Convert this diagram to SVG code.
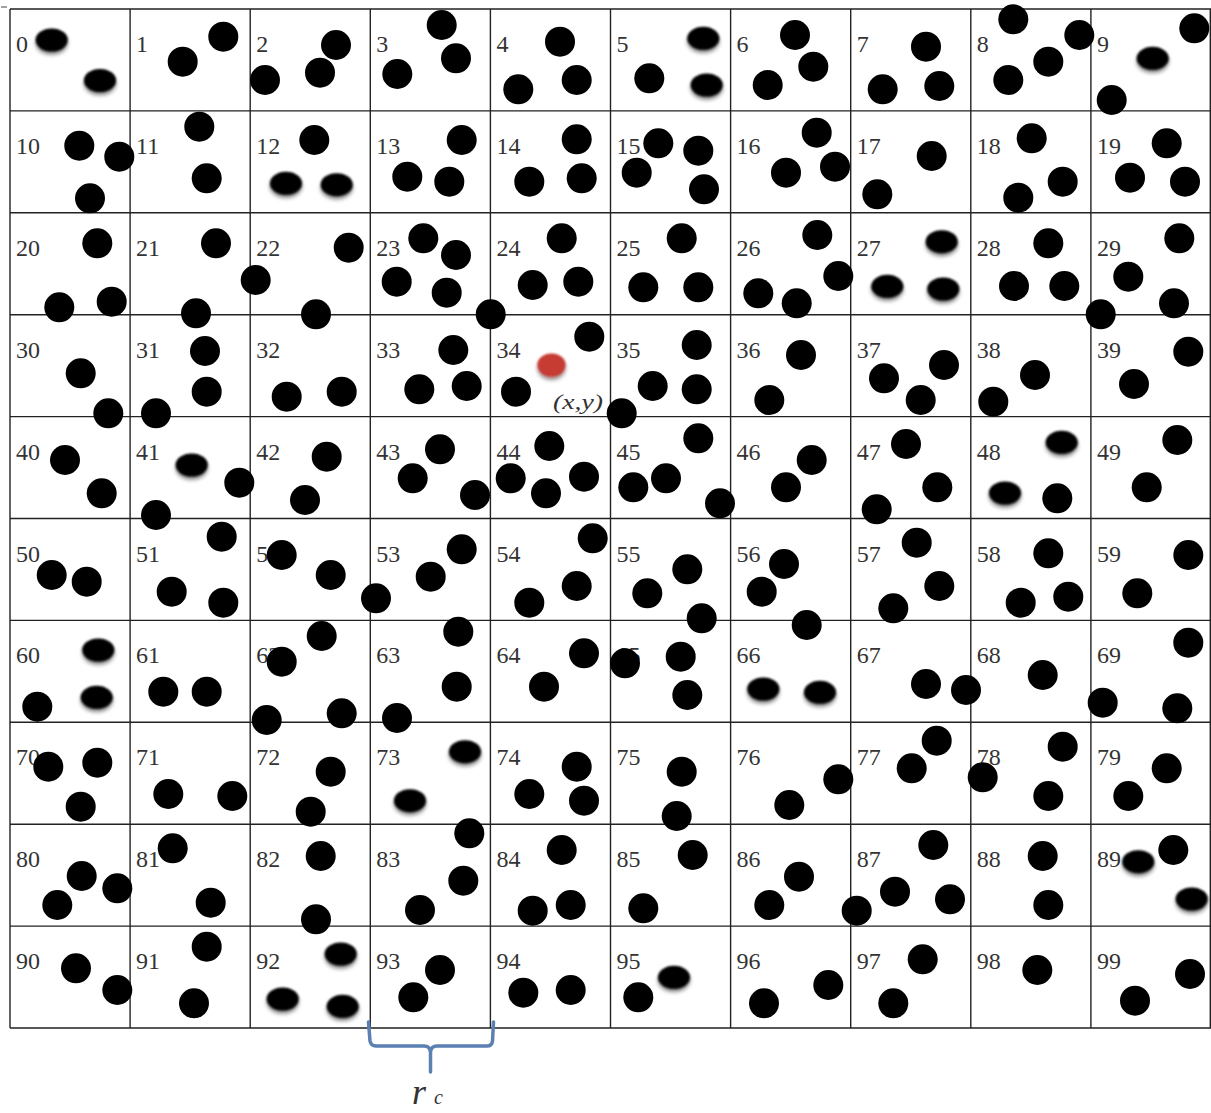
<svg xmlns="http://www.w3.org/2000/svg" width="1211" height="1113" viewBox="0 0 1211 1113">
<style>
.grid{stroke:#222;stroke-width:1.4;fill:none}
.lbl{font-family:"Liberation Serif","Times New Roman",serif;font-size:24px;fill:#333}
.d{fill:#000}
.e{fill:#000;filter:url(#soft)}
.red{fill:#c63a33;filter:url(#soft)}
.it{font-family:"Liberation Serif","Times New Roman",serif;font-style:italic;fill:#333}
.brace{fill:none;stroke:#5b80b2;stroke-width:3.5;stroke-linecap:round;stroke-linejoin:round}
</style>
<defs>
<filter id="soft" x="-50%" y="-50%" width="200%" height="220%">
<feGaussianBlur in="SourceAlpha" stdDeviation="2" result="b"/>
<feOffset in="b" dy="3" result="o"/>
<feComponentTransfer in="o" result="s"><feFuncA type="linear" slope="0.5"/></feComponentTransfer>
<feGaussianBlur in="SourceGraphic" stdDeviation="0.8" result="g"/>
<feMerge><feMergeNode in="s"/><feMergeNode in="g"/></feMerge>
</filter>
</defs>
<rect width="1211" height="1113" fill="#fff"/>
<line x1="1" y1="7" x2="7" y2="7" stroke="#444" stroke-width="1"/>
<g id="grid" class="grid">
<path d="M10,9V1028M130.1,9V1028M250.2,9V1028M370.3,9V1028M490.4,9V1028M610.5,9V1028M730.6,9V1028M850.7,9V1028M970.8,9V1028M1090.9,9V1028M1210.3,9V1028M10,9H1211M10,110.9H1211M10,212.8H1211M10,314.7H1211M10,416.6H1211M10,518.5H1211M10,620.4H1211M10,722.3H1211M10,824.2H1211M10,926.1H1211M10,1028H1211"/>
</g>
<g id="connectors"></g>
<g id="cell-0"><text class="lbl" x="16" y="52">0</text><ellipse class="e" cx="51.7" cy="40" rx="16" ry="11.5"/><ellipse class="e" cx="100" cy="80.5" rx="16" ry="11.5"/></g>
<g id="cell-1"><text class="lbl" x="136.1" y="52">1</text><circle class="d" cx="182.7" cy="61.7" r="15"/><circle class="d" cx="223.3" cy="36.7" r="15"/></g>
<g id="cell-2"><text class="lbl" x="256.2" y="52">2</text><circle class="d" cx="336" cy="45" r="15"/><circle class="d" cx="320" cy="72.7" r="15"/><circle class="d" cx="265" cy="80" r="15"/></g>
<g id="cell-3"><text class="lbl" x="376.3" y="52">3</text><circle class="d" cx="441.7" cy="25" r="15"/><circle class="d" cx="456" cy="58.3" r="15"/><circle class="d" cx="397.3" cy="74" r="15"/></g>
<g id="cell-4"><text class="lbl" x="496.4" y="52">4</text><circle class="d" cx="560" cy="41.7" r="15"/><circle class="d" cx="576.7" cy="80" r="15"/><circle class="d" cx="518.3" cy="89.3" r="15"/></g>
<g id="cell-5"><text class="lbl" x="616.5" y="52">5</text><ellipse class="e" cx="703.3" cy="38.3" rx="16" ry="11.5"/><ellipse class="e" cx="706.7" cy="85" rx="16" ry="11.5"/><circle class="d" cx="649.3" cy="78.3" r="15"/></g>
<g id="cell-6"><text class="lbl" x="736.6" y="52">6</text><circle class="d" cx="795" cy="35" r="15"/><circle class="d" cx="767.7" cy="85" r="15"/><circle class="d" cx="813.3" cy="66.7" r="15"/></g>
<g id="cell-7"><text class="lbl" x="856.7" y="52">7</text><circle class="d" cx="926" cy="46.7" r="15"/><circle class="d" cx="882.7" cy="89.3" r="15"/><circle class="d" cx="939.3" cy="86" r="15"/></g>
<g id="cell-8"><text class="lbl" x="976.8" y="52">8</text><circle class="d" cx="1013.3" cy="19.3" r="15"/><circle class="d" cx="1079.3" cy="35" r="15"/><circle class="d" cx="1048.3" cy="61.7" r="15"/><circle class="d" cx="1008.3" cy="80" r="15"/></g>
<g id="cell-9"><text class="lbl" x="1096.9" y="52">9</text><ellipse class="e" cx="1152.7" cy="58.3" rx="16" ry="11.5"/><circle class="d" cx="1194.3" cy="28.3" r="15"/><circle class="d" cx="1111.7" cy="100" r="15"/></g>
<g id="cell-10"><text class="lbl" x="16" y="153.9">10</text><circle class="d" cx="79.3" cy="145.7" r="15"/><circle class="d" cx="119.3" cy="156.7" r="15"/><circle class="d" cx="90" cy="198.3" r="15"/></g>
<g id="cell-11"><text class="lbl" x="136.1" y="153.9">11</text><circle class="d" cx="199.3" cy="126.7" r="15"/><circle class="d" cx="206.7" cy="178.3" r="15"/></g>
<g id="cell-12"><text class="lbl" x="256.2" y="153.9">12</text><circle class="d" cx="314.3" cy="140" r="15"/><ellipse class="e" cx="286" cy="183.3" rx="16" ry="11.5"/><ellipse class="e" cx="336.7" cy="184.7" rx="16" ry="11.5"/></g>
<g id="cell-13"><text class="lbl" x="376.3" y="153.9">13</text><circle class="d" cx="461.7" cy="140" r="15"/><circle class="d" cx="407.3" cy="176.7" r="15"/><circle class="d" cx="449.3" cy="181.7" r="15"/></g>
<g id="cell-14"><text class="lbl" x="496.4" y="153.9">14</text><circle class="d" cx="576.7" cy="139.3" r="15"/><circle class="d" cx="529.3" cy="181.7" r="15"/><circle class="d" cx="581.7" cy="178.3" r="15"/></g>
<g id="cell-15"><text class="lbl" x="616.5" y="153.9">15</text><circle class="d" cx="658.3" cy="143.3" r="15"/><circle class="d" cx="698.3" cy="150.7" r="15"/><circle class="d" cx="636.7" cy="172.7" r="15"/><circle class="d" cx="704" cy="189.3" r="15"/></g>
<g id="cell-16"><text class="lbl" x="736.6" y="153.9">16</text><circle class="d" cx="816.7" cy="132.7" r="15"/><circle class="d" cx="835" cy="166.7" r="15"/><circle class="d" cx="786" cy="172.7" r="15"/></g>
<g id="cell-17"><text class="lbl" x="856.7" y="153.9">17</text><circle class="d" cx="931.7" cy="156" r="15"/><circle class="d" cx="877.3" cy="194.3" r="15"/></g>
<g id="cell-18"><text class="lbl" x="976.8" y="153.9">18</text><circle class="d" cx="1031.7" cy="138.3" r="15"/><circle class="d" cx="1062.7" cy="181.7" r="15"/><circle class="d" cx="1018.3" cy="197.7" r="15"/></g>
<g id="cell-19"><text class="lbl" x="1096.9" y="153.9">19</text><circle class="d" cx="1166.7" cy="143.3" r="15"/><circle class="d" cx="1130" cy="177.7" r="15"/><circle class="d" cx="1185" cy="181.7" r="15"/></g>
<g id="cell-20"><text class="lbl" x="16" y="255.8">20</text><circle class="d" cx="97.3" cy="243.3" r="15"/><circle class="d" cx="59.3" cy="307.3" r="15"/><circle class="d" cx="111.7" cy="301.7" r="15"/></g>
<g id="cell-21"><text class="lbl" x="136.1" y="255.8">21</text><circle class="d" cx="216" cy="243.3" r="15"/><circle class="d" cx="255.7" cy="280" r="15"/><circle class="d" cx="196" cy="313.3" r="15"/></g>
<g id="cell-22"><text class="lbl" x="256.2" y="255.8">22</text><circle class="d" cx="348.7" cy="247.7" r="15"/><circle class="d" cx="316" cy="314.3" r="15"/></g>
<g id="cell-23"><text class="lbl" x="376.3" y="255.8">23</text><circle class="d" cx="423.3" cy="238.3" r="15"/><circle class="d" cx="456" cy="255" r="15"/><circle class="d" cx="396.7" cy="281.7" r="15"/><circle class="d" cx="446.7" cy="292.7" r="15"/><circle class="d" cx="490.7" cy="314.3" r="15"/></g>
<g id="cell-24"><text class="lbl" x="496.4" y="255.8">24</text><circle class="d" cx="561.7" cy="238.3" r="15"/><circle class="d" cx="532.7" cy="285" r="15"/><circle class="d" cx="578.3" cy="281.7" r="15"/></g>
<g id="cell-25"><text class="lbl" x="616.5" y="255.8">25</text><circle class="d" cx="681.7" cy="238.3" r="15"/><circle class="d" cx="643.3" cy="287.3" r="15"/><circle class="d" cx="698.3" cy="287.3" r="15"/></g>
<g id="cell-26"><text class="lbl" x="736.6" y="255.8">26</text><circle class="d" cx="817.3" cy="235" r="15"/><circle class="d" cx="838.3" cy="276" r="15"/><circle class="d" cx="758.3" cy="293.3" r="15"/><circle class="d" cx="796.7" cy="303.3" r="15"/></g>
<g id="cell-27"><text class="lbl" x="856.7" y="255.8">27</text><ellipse class="e" cx="941.7" cy="241.7" rx="16" ry="11.5"/><ellipse class="e" cx="887.3" cy="286.3" rx="16" ry="11.5"/><ellipse class="e" cx="943.3" cy="289" rx="16" ry="11.5"/></g>
<g id="cell-28"><text class="lbl" x="976.8" y="255.8">28</text><circle class="d" cx="1048.3" cy="243.3" r="15"/><circle class="d" cx="1014" cy="286" r="15"/><circle class="d" cx="1064.3" cy="286" r="15"/></g>
<g id="cell-29"><text class="lbl" x="1096.9" y="255.8">29</text><circle class="d" cx="1179.3" cy="238.3" r="15"/><circle class="d" cx="1128.3" cy="276.7" r="15"/><circle class="d" cx="1174" cy="303.3" r="15"/><circle class="d" cx="1100.7" cy="314.3" r="15"/></g>
<g id="cell-30"><text class="lbl" x="16" y="357.7">30</text><circle class="d" cx="80.7" cy="373.3" r="15"/><circle class="d" cx="108.3" cy="413.3" r="15"/></g>
<g id="cell-31"><text class="lbl" x="136.1" y="357.7">31</text><circle class="d" cx="205" cy="351" r="15"/><circle class="d" cx="206.7" cy="391.7" r="15"/><circle class="d" cx="156" cy="413.3" r="15"/></g>
<g id="cell-32"><text class="lbl" x="256.2" y="357.7">32</text><circle class="d" cx="286.7" cy="396.7" r="15"/><circle class="d" cx="341.7" cy="391.7" r="15"/></g>
<g id="cell-33"><text class="lbl" x="376.3" y="357.7">33</text><circle class="d" cx="453.3" cy="350" r="15"/><circle class="d" cx="419.3" cy="389.3" r="15"/><circle class="d" cx="466.7" cy="386" r="15"/></g>
<g id="cell-34"><text class="lbl" x="496.4" y="357.7">34</text><ellipse class="red" cx="551.5" cy="365" rx="14" ry="11.5"/><circle class="d" cx="589.3" cy="336.7" r="15"/><circle class="d" cx="516" cy="391.7" r="15"/><text class="it" x="553" y="409" font-size="22" textLength="50" lengthAdjust="spacingAndGlyphs">(x,y)</text></g>
<g id="cell-35"><text class="lbl" x="616.5" y="357.7">35</text><circle class="d" cx="696.7" cy="345" r="15"/><circle class="d" cx="652.7" cy="386" r="15"/><circle class="d" cx="696.7" cy="389.3" r="15"/><circle class="d" cx="621.7" cy="413.3" r="15"/></g>
<g id="cell-36"><text class="lbl" x="736.6" y="357.7">36</text><circle class="d" cx="801" cy="355" r="15"/><circle class="d" cx="769.3" cy="400" r="15"/></g>
<g id="cell-37"><text class="lbl" x="856.7" y="357.7">37</text><circle class="d" cx="884" cy="378.3" r="15"/><circle class="d" cx="944" cy="365" r="15"/><circle class="d" cx="920.7" cy="400" r="15"/></g>
<g id="cell-38"><text class="lbl" x="976.8" y="357.7">38</text><circle class="d" cx="1035" cy="375" r="15"/><circle class="d" cx="993.3" cy="401.7" r="15"/></g>
<g id="cell-39"><text class="lbl" x="1096.9" y="357.7">39</text><circle class="d" cx="1188.3" cy="351.7" r="15"/><circle class="d" cx="1134" cy="384" r="15"/></g>
<g id="cell-40"><text class="lbl" x="16" y="459.6">40</text><circle class="d" cx="65" cy="460" r="15"/><circle class="d" cx="101.7" cy="493.3" r="15"/></g>
<g id="cell-41"><text class="lbl" x="136.1" y="459.6">41</text><ellipse class="e" cx="191.7" cy="465" rx="16" ry="11.5"/><circle class="d" cx="239.3" cy="482.7" r="15"/><circle class="d" cx="156" cy="515" r="15"/></g>
<g id="cell-42"><text class="lbl" x="256.2" y="459.6">42</text><circle class="d" cx="326.7" cy="456.7" r="15"/><circle class="d" cx="305" cy="500" r="15"/></g>
<g id="cell-43"><text class="lbl" x="376.3" y="459.6">43</text><circle class="d" cx="440" cy="449.3" r="15"/><circle class="d" cx="412.7" cy="478.3" r="15"/><circle class="d" cx="475" cy="495" r="15"/></g>
<g id="cell-44"><text class="lbl" x="496.4" y="459.6">44</text><circle class="d" cx="549.3" cy="446" r="15"/><circle class="d" cx="510.7" cy="478.3" r="15"/><circle class="d" cx="546" cy="493.3" r="15"/><circle class="d" cx="584" cy="476.7" r="15"/></g>
<g id="cell-45"><text class="lbl" x="616.5" y="459.6">45</text><circle class="d" cx="698.3" cy="438.3" r="15"/><circle class="d" cx="666" cy="478.3" r="15"/><circle class="d" cx="633.3" cy="487.3" r="15"/><circle class="d" cx="720" cy="503.3" r="15"/></g>
<g id="cell-46"><text class="lbl" x="736.6" y="459.6">46</text><circle class="d" cx="811.7" cy="460" r="15"/><circle class="d" cx="786" cy="487.3" r="15"/></g>
<g id="cell-47"><text class="lbl" x="856.7" y="459.6">47</text><circle class="d" cx="906" cy="444" r="15"/><circle class="d" cx="937.3" cy="487.3" r="15"/><circle class="d" cx="876.7" cy="509.3" r="15"/></g>
<g id="cell-48"><text class="lbl" x="976.8" y="459.6">48</text><ellipse class="e" cx="1061.7" cy="442.3" rx="16" ry="11.5"/><ellipse class="e" cx="1005" cy="493" rx="16" ry="11.5"/><circle class="d" cx="1057.3" cy="498.3" r="15"/></g>
<g id="cell-49"><text class="lbl" x="1096.9" y="459.6">49</text><circle class="d" cx="1177.3" cy="440" r="15"/><circle class="d" cx="1146.7" cy="487.3" r="15"/></g>
<g id="cell-50"><text class="lbl" x="16" y="561.5">50</text><circle class="d" cx="51.7" cy="575" r="15"/><circle class="d" cx="86.7" cy="581.7" r="15"/></g>
<g id="cell-51"><text class="lbl" x="136.1" y="561.5">51</text><circle class="d" cx="221.7" cy="536.7" r="15"/><circle class="d" cx="171.7" cy="591.7" r="15"/><circle class="d" cx="223.3" cy="602.7" r="15"/></g>
<g id="cell-52"><text class="lbl" x="256.2" y="561.5">52</text><circle class="d" cx="281.7" cy="555" r="15"/><circle class="d" cx="330.7" cy="575" r="15"/><circle class="d" cx="376" cy="598.3" r="15"/></g>
<g id="cell-53"><text class="lbl" x="376.3" y="561.5">53</text><circle class="d" cx="461.7" cy="549.3" r="15"/><circle class="d" cx="430.7" cy="576.7" r="15"/></g>
<g id="cell-54"><text class="lbl" x="496.4" y="561.5">54</text><circle class="d" cx="592.7" cy="538.3" r="15"/><circle class="d" cx="576.7" cy="586" r="15"/><circle class="d" cx="529.3" cy="602.7" r="15"/></g>
<g id="cell-55"><text class="lbl" x="616.5" y="561.5">55</text><circle class="d" cx="687.3" cy="569.3" r="15"/><circle class="d" cx="647.3" cy="593.3" r="15"/><circle class="d" cx="701.7" cy="618.3" r="15"/></g>
<g id="cell-56"><text class="lbl" x="736.6" y="561.5">56</text><circle class="d" cx="784" cy="564" r="15"/><circle class="d" cx="761.7" cy="591.7" r="15"/><circle class="d" cx="806.7" cy="625" r="15"/></g>
<g id="cell-57"><text class="lbl" x="856.7" y="561.5">57</text><circle class="d" cx="916.7" cy="542.7" r="15"/><circle class="d" cx="939.3" cy="586" r="15"/><circle class="d" cx="893.3" cy="608.3" r="15"/></g>
<g id="cell-58"><text class="lbl" x="976.8" y="561.5">58</text><circle class="d" cx="1048.3" cy="553.3" r="15"/><circle class="d" cx="1068.3" cy="596.7" r="15"/><circle class="d" cx="1020.7" cy="602.7" r="15"/></g>
<g id="cell-59"><text class="lbl" x="1096.9" y="561.5">59</text><circle class="d" cx="1188.3" cy="555" r="15"/><circle class="d" cx="1137.3" cy="593.3" r="15"/></g>
<g id="cell-60"><text class="lbl" x="16" y="663.4">60</text><ellipse class="e" cx="98.3" cy="650" rx="16" ry="11.5"/><ellipse class="e" cx="96.7" cy="697.3" rx="16" ry="11.5"/><circle class="d" cx="37.3" cy="706.7" r="15"/></g>
<g id="cell-61"><text class="lbl" x="136.1" y="663.4">61</text><circle class="d" cx="163.3" cy="691.7" r="15"/><circle class="d" cx="206.7" cy="691.7" r="15"/></g>
<g id="cell-62"><text class="lbl" x="256.2" y="663.4">62</text><circle class="d" cx="321.7" cy="636" r="15"/><circle class="d" cx="281.7" cy="661.7" r="15"/><circle class="d" cx="266.7" cy="720" r="15"/><circle class="d" cx="341.7" cy="713.3" r="15"/></g>
<g id="cell-63"><text class="lbl" x="376.3" y="663.4">63</text><circle class="d" cx="458.3" cy="631.7" r="15"/><circle class="d" cx="456.7" cy="686.7" r="15"/><circle class="d" cx="397" cy="718" r="15"/></g>
<g id="cell-64"><text class="lbl" x="496.4" y="663.4">64</text><circle class="d" cx="584" cy="653.3" r="15"/><circle class="d" cx="544" cy="686.7" r="15"/></g>
<g id="cell-65"><text class="lbl" x="616.5" y="663.4">65</text><circle class="d" cx="625" cy="663.3" r="15"/><circle class="d" cx="680.7" cy="656.7" r="15"/><circle class="d" cx="687.3" cy="695" r="15"/></g>
<g id="cell-66"><text class="lbl" x="736.6" y="663.4">66</text><ellipse class="e" cx="763.3" cy="689" rx="16" ry="11.5"/><ellipse class="e" cx="820" cy="692.3" rx="16" ry="11.5"/></g>
<g id="cell-67"><text class="lbl" x="856.7" y="663.4">67</text><circle class="d" cx="926" cy="684" r="15"/><circle class="d" cx="966" cy="690" r="15"/></g>
<g id="cell-68"><text class="lbl" x="976.8" y="663.4">68</text><circle class="d" cx="1042.7" cy="675" r="15"/></g>
<g id="cell-69"><text class="lbl" x="1096.9" y="663.4">69</text><circle class="d" cx="1188.3" cy="642.7" r="15"/><circle class="d" cx="1102.7" cy="702.7" r="15"/><circle class="d" cx="1177.3" cy="708.3" r="15"/></g>
<g id="cell-70"><text class="lbl" x="16" y="765.3">70</text><circle class="d" cx="48.3" cy="766.7" r="15"/><circle class="d" cx="97.3" cy="762.7" r="15"/><circle class="d" cx="80.7" cy="806.7" r="15"/></g>
<g id="cell-71"><text class="lbl" x="136.1" y="765.3">71</text><circle class="d" cx="168.3" cy="794" r="15"/><circle class="d" cx="232.3" cy="796" r="15"/></g>
<g id="cell-72"><text class="lbl" x="256.2" y="765.3">72</text><circle class="d" cx="330.7" cy="771.7" r="15"/><circle class="d" cx="310.7" cy="811.7" r="15"/></g>
<g id="cell-73"><text class="lbl" x="376.3" y="765.3">73</text><ellipse class="e" cx="465" cy="751.7" rx="16" ry="11.5"/><ellipse class="e" cx="410" cy="800.7" rx="16" ry="11.5"/></g>
<g id="cell-74"><text class="lbl" x="496.4" y="765.3">74</text><circle class="d" cx="576.7" cy="766.7" r="15"/><circle class="d" cx="529.3" cy="794" r="15"/><circle class="d" cx="584" cy="800.7" r="15"/></g>
<g id="cell-75"><text class="lbl" x="616.5" y="765.3">75</text><circle class="d" cx="681.7" cy="771.7" r="15"/><circle class="d" cx="676.7" cy="816" r="15"/></g>
<g id="cell-76"><text class="lbl" x="736.6" y="765.3">76</text><circle class="d" cx="789.3" cy="805" r="15"/><circle class="d" cx="838.3" cy="779.3" r="15"/></g>
<g id="cell-77"><text class="lbl" x="856.7" y="765.3">77</text><circle class="d" cx="936.7" cy="740.7" r="15"/><circle class="d" cx="911.7" cy="768.3" r="15"/></g>
<g id="cell-78"><text class="lbl" x="976.8" y="765.3">78</text><circle class="d" cx="1062.7" cy="746.7" r="15"/><circle class="d" cx="982.7" cy="777.3" r="15"/><circle class="d" cx="1048.3" cy="796" r="15"/></g>
<g id="cell-79"><text class="lbl" x="1096.9" y="765.3">79</text><circle class="d" cx="1166.7" cy="768.3" r="15"/><circle class="d" cx="1128.3" cy="796" r="15"/></g>
<g id="cell-80"><text class="lbl" x="16" y="867.2">80</text><circle class="d" cx="81.7" cy="876" r="15"/><circle class="d" cx="117.3" cy="888.3" r="15"/><circle class="d" cx="57.3" cy="905" r="15"/></g>
<g id="cell-81"><text class="lbl" x="136.1" y="867.2">81</text><circle class="d" cx="172.7" cy="848.3" r="15"/><circle class="d" cx="210.7" cy="902.7" r="15"/></g>
<g id="cell-82"><text class="lbl" x="256.2" y="867.2">82</text><circle class="d" cx="320.7" cy="856" r="15"/><circle class="d" cx="316" cy="919.3" r="15"/></g>
<g id="cell-83"><text class="lbl" x="376.3" y="867.2">83</text><circle class="d" cx="469.3" cy="833.3" r="15"/><circle class="d" cx="463.3" cy="880.7" r="15"/><circle class="d" cx="420" cy="910" r="15"/></g>
<g id="cell-84"><text class="lbl" x="496.4" y="867.2">84</text><circle class="d" cx="561.7" cy="850" r="15"/><circle class="d" cx="570.7" cy="905" r="15"/><circle class="d" cx="532.7" cy="910.7" r="15"/></g>
<g id="cell-85"><text class="lbl" x="616.5" y="867.2">85</text><circle class="d" cx="692.7" cy="855" r="15"/><circle class="d" cx="643.3" cy="908.3" r="15"/></g>
<g id="cell-86"><text class="lbl" x="736.6" y="867.2">86</text><circle class="d" cx="799" cy="876.7" r="15"/><circle class="d" cx="769.3" cy="905" r="15"/></g>
<g id="cell-87"><text class="lbl" x="856.7" y="867.2">87</text><circle class="d" cx="933.3" cy="845" r="15"/><circle class="d" cx="895" cy="891.7" r="15"/><circle class="d" cx="950" cy="899.3" r="15"/><circle class="d" cx="856.7" cy="910.7" r="15"/></g>
<g id="cell-88"><text class="lbl" x="976.8" y="867.2">88</text><circle class="d" cx="1042.7" cy="856" r="15"/><circle class="d" cx="1048.3" cy="905" r="15"/></g>
<g id="cell-89"><text class="lbl" x="1096.9" y="867.2">89</text><ellipse class="e" cx="1138.3" cy="861.7" rx="16" ry="11.5"/><circle class="d" cx="1173.3" cy="850" r="15"/><ellipse class="e" cx="1191.7" cy="899" rx="16" ry="11.5"/></g>
<g id="cell-90"><text class="lbl" x="16" y="969.1">90</text><circle class="d" cx="76" cy="968.3" r="15"/><circle class="d" cx="117.3" cy="990" r="15"/></g>
<g id="cell-91"><text class="lbl" x="136.1" y="969.1">91</text><circle class="d" cx="206.7" cy="946.7" r="15"/><circle class="d" cx="194" cy="1003.3" r="15"/></g>
<g id="cell-92"><text class="lbl" x="256.2" y="969.1">92</text><ellipse class="e" cx="340.7" cy="954" rx="16" ry="11.5"/><ellipse class="e" cx="282.7" cy="999" rx="16" ry="11.5"/><ellipse class="e" cx="342.7" cy="1006.3" rx="16" ry="11.5"/></g>
<g id="cell-93"><text class="lbl" x="376.3" y="969.1">93</text><circle class="d" cx="440" cy="970" r="15"/><circle class="d" cx="413.3" cy="997.3" r="15"/></g>
<g id="cell-94"><text class="lbl" x="496.4" y="969.1">94</text><circle class="d" cx="523.3" cy="992.7" r="15"/><circle class="d" cx="570.7" cy="990" r="15"/></g>
<g id="cell-95"><text class="lbl" x="616.5" y="969.1">95</text><ellipse class="e" cx="674" cy="977.3" rx="16" ry="11.5"/><circle class="d" cx="638.3" cy="997.3" r="15"/></g>
<g id="cell-96"><text class="lbl" x="736.6" y="969.1">96</text><circle class="d" cx="764" cy="1003.3" r="15"/><circle class="d" cx="828.3" cy="985" r="15"/></g>
<g id="cell-97"><text class="lbl" x="856.7" y="969.1">97</text><circle class="d" cx="922.7" cy="959.3" r="15"/><circle class="d" cx="893.3" cy="1003.3" r="15"/></g>
<g id="cell-98"><text class="lbl" x="976.8" y="969.1">98</text><circle class="d" cx="1037.3" cy="970" r="15"/></g>
<g id="cell-99"><text class="lbl" x="1096.9" y="969.1">99</text><circle class="d" cx="1190" cy="974" r="15"/><circle class="d" cx="1135" cy="1000.7" r="15"/></g>
<g id="rc-brace">
<path class="brace" d="M368.5,1022 L370,1041 Q371,1046 376,1046 L424,1046 Q430,1046 430.5,1052 L430.5,1072 M430.5,1052 Q431,1046 437,1046 L487,1046 Q492,1046 492.5,1041 L493.5,1022"/>
<text class="it" x="412" y="1104" font-size="36" fill="#222">r<tspan font-size="20" dx="8">c</tspan></text>
</g>
</svg>
